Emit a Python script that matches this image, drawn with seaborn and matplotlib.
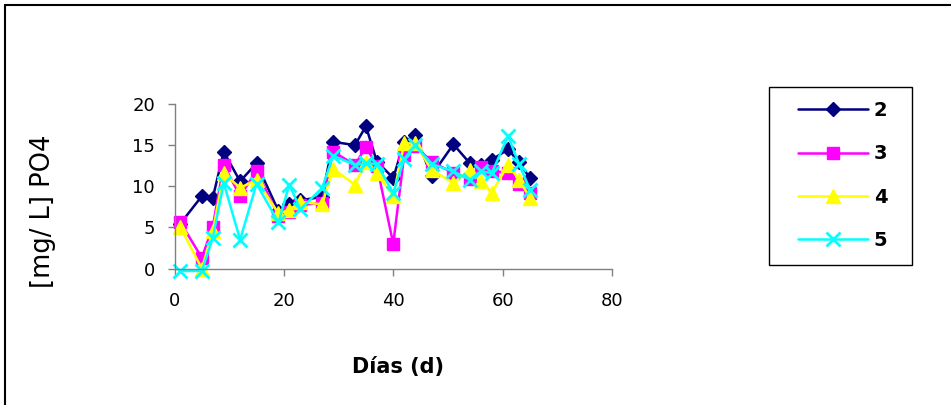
import matplotlib
matplotlib.use("Agg")
import matplotlib.pyplot as plt
import seaborn as sns
from matplotlib.lines import Line2D
from matplotlib.patches import Rectangle

# datos
dias = [1, 5, 7, 9, 12, 15, 19, 21, 23, 27, 29, 33, 35, 37, 40, 42, 44, 47, 51, 54, 56, 58, 61, 63, 65]
serie_2 = [5.4, 8.8, 8.6, 14.2, 10.6, 12.8, 7.0, 7.9, 8.3, 8.7, 15.4, 15.0, 17.3, 13.0, 11.0,
           15.4, 16.2, 11.3, 15.1, 12.8, 12.6, 13.2, 14.5, 12.9, 11.0]
serie_3 = [5.7, 1.3, 5.1, 12.6, 8.8, 11.9, 6.4, 6.9, 7.7, 8.0, 14.2, 12.6, 14.8, 12.5, 3.0,
           13.8, 14.9, 13.0, 11.6, 10.9, 12.3, 11.9, 11.6, 10.3, 9.2]
serie_4 = [5.1, 0.0, 4.5, 11.6, 9.8, 10.8, 6.7, 7.1, 8.1, 7.8, 12.1, 10.2, 12.9, 11.6, 8.8,
           15.2, 15.2, 12.0, 10.4, 12.0, 10.6, 9.2, 12.6, 10.8, 8.6]
serie_5 = [-0.3, -0.3, 3.7, 10.4, 3.5, 10.3, 5.6, 10.2, 7.2, 9.8, 13.7, 12.6, 12.8, 12.7, 9.2,
           13.3, 15.0, 12.7, 11.8, 10.8, 11.8, 11.6, 16.1, 12.7, 9.6]
nombres = ["2", "3", "4", "5"]
colores = ["#000080", "#FF00FF", "#FFFF00", "#00FFFF"]
marcadores = ["D", "s", "^", "x"]
tamanos = [7.5, 8, 10, 9.5]
x_ticks = [0, 20, 40, 60, 80]
y_ticks = [0, 5, 10, 15, 20]

sns.set_style("white")
plt.rcParams["font.family"] = ["DejaVu Sans"]
plt.rcParams["text.color"] = "black"
plt.rcParams["axes.labelcolor"] = "black"
plt.rcParams["xtick.color"] = "black"
plt.rcParams["ytick.color"] = "black"

fig = plt.figure(figsize=(9.51, 4.05), dpi=100)
ax = fig.add_axes([174.5 / 951, 1 - 268.5 / 405, 437.5 / 951, 164.5 / 405])

for serie, nombre, color, marca, tam in zip([serie_2, serie_3, serie_4, serie_5],
                                             nombres, colores, marcadores, tamanos):
    sns.lineplot(x=dias, y=serie, ax=ax, color=color, marker=marca, markersize=tam,
                 mec=color, mew=2 if marca == "x" else 1, linewidth=1.8,
                 label=nombre, sort=False, clip_on=False)

ax.set_xlim(0, 80)
ax.set_ylim(0, 20)
ax.set_xticks(x_ticks)
ax.set_yticks(y_ticks)
ax.tick_params(axis="both", labelsize=13, direction="out", length=5, width=1,
               color="#808080", labelcolor="black", left=True, bottom=True)
ax.tick_params(axis="x", pad=12)
ax.tick_params(axis="y", pad=9)
for lado in ["top", "right"]:
    ax.spines[lado].set_visible(False)
for lado in ["left", "bottom"]:
    ax.spines[lado].set_color("#808080")
    ax.spines[lado].set_linewidth(1)

ax.set_xlabel("Días (d)", fontsize=15, fontweight="bold")
ax.xaxis.set_label_coords(0.511, -0.54)
ax.set_ylabel("[mg/ L] PO4", fontsize=18.5)
ax.yaxis.set_label_coords(-0.27, 0.35)

handles, labels = ax.get_legend_handles_labels()
ax.legend_.remove()
leg = fig.legend(handles, labels, loc="upper left",
                 bbox_to_anchor=(798 / 951, 1 - 101 / 405),
                 prop={"size": 14, "weight": "bold"}, frameon=False,
                 handlelength=3.6, handletextpad=0.3,
                 labelspacing=1.25, borderpad=0, borderaxespad=0)

# recuadro de la leyenda
fig.add_artist(Rectangle((769 / 951, 1 - 265 / 405), 143 / 951, 178 / 405,
                         transform=fig.transFigure, fill=False, edgecolor="black", lw=1))

# marco del área del gráfico
fig.add_artist(Line2D([5 / 951, 5 / 951], [0, 1 - 5 / 405], color="black", lw=1.5))
fig.add_artist(Line2D([5 / 951, 1], [1 - 5 / 405, 1 - 5 / 405], color="black", lw=1.5))

fig.savefig("out.png", dpi=100)
